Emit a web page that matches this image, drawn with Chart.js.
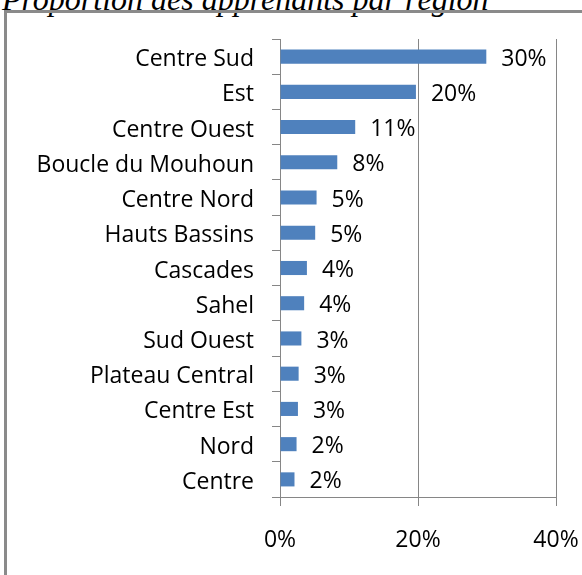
<!DOCTYPE html>
<html lang="fr">
<head>
<meta charset="utf-8">
<title>Proportion des apprenants par région</title>
<script src="https://cdn.jsdelivr.net/npm/chart.js@4"></script>
<style>
  html, body { margin: 0; padding: 0; background: #fff; overflow: hidden; }
  #titre {
    position: absolute; left: 2px; top: -19px; margin: 0;
    font: italic 32px "Liberation Serif", serif; color: #000; white-space: nowrap;
  }
  #cadre {
    position: absolute; left: 4px; top: 10px; width: 600px; height: 600px;
    border: 3px solid #8a8a8a;
  }
  #regionsChart { position: absolute; left: 0; top: 0; }
</style>
</head>
<body>
<div id="titre">Proportion des apprenants par région</div>
<div id="cadre"></div>
<canvas id="regionsChart" width="582" height="575"></canvas>
<script>
// Régions et part des apprenants (%)
const regions = [
  "Centre Sud", "Est", "Centre Ouest", "Boucle du Mouhoun", "Centre Nord",
  "Hauts Bassins", "Cascades", "Sahel", "Sud Ouest", "Plateau Central",
  "Centre Est", "Nord", "Centre"
];
const valeurs = [29.9, 19.7, 10.9, 8.3, 5.3, 5.1, 3.9, 3.5, 3.1, 2.7, 2.6, 2.4, 2.1];
const graduations = [0, 20, 40];

const gris = "#868686";
const police = "'Open Sans'";

// --- ETIQUETTES DES VALEURS A DROITE DES BARRES ---
const etiquettesValeurs = {
  id: "etiquettesValeurs",
  afterDatasetsDraw(chart) {
    const ctx = chart.ctx;
    const meta = chart.getDatasetMeta(0);
    ctx.save();
    ctx.font = "23px " + police;
    ctx.fillStyle = "#000";
    ctx.textAlign = "left";
    ctx.textBaseline = "middle";
    meta.data.forEach((bar, i) => {
      ctx.fillText(Math.round(valeurs[i]) + "%", bar.x + 15, bar.y + 2.5);
    });
    ctx.restore();
  }
};

new Chart(document.getElementById("regionsChart"), {
  type: "bar",
  data: {
    labels: regions,
    datasets: [{
      data: valeurs,
      backgroundColor: "#4f81bd",
      barPercentage: 0.4,
      categoryPercentage: 1
    }]
  },
  plugins: [etiquettesValeurs],
  options: {
    indexAxis: "y",
    responsive: false,
    animation: false,
    layout: { padding: { left: 0, right: 26, top: 39, bottom: 0 } },
    plugins: {
      legend: { display: false },
      tooltip: { enabled: false }
    },
    scales: {
      x: {
        min: 0,
        max: 40,
        afterBuildTicks(scale) {
          scale.ticks = graduations.map(v => ({ value: v }));
        },
        afterFit(scale) {
          scale.height = 78;
          scale.paddingLeft = 0;
          scale.paddingRight = 0;
        },
        grid: { color: gris, tickLength: 9 },
        border: { color: gris },
        ticks: {
          padding: 21,
          color: "#000",
          font: { family: police, size: 23 },
          callback: v => v + "%"
        }
      },
      y: {
        afterFit(scale) { scale.width = 280; },
        grid: { offset: true, drawOnChartArea: false, color: gris, tickLength: 8 },
        border: { color: gris },
        ticks: {
          padding: 18,
          labelOffset: 3,
          color: "#000",
          font: { family: police, size: 23 }
        }
      }
    }
  }
});
</script>
</body>
</html>
